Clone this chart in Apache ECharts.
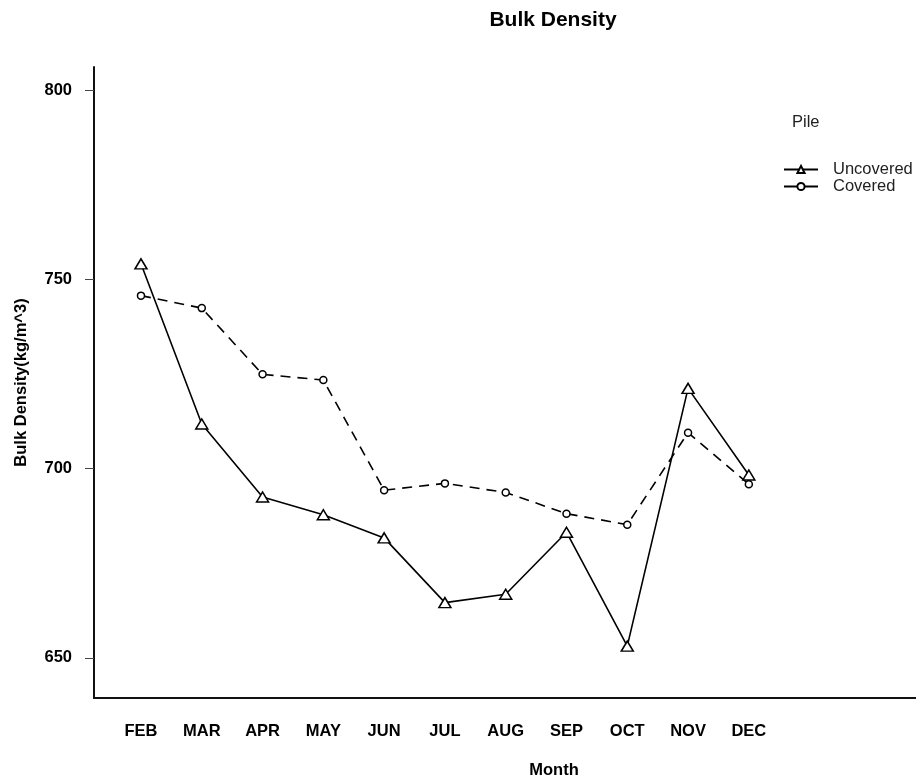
<!DOCTYPE html>
<html>
<head>
<meta charset="utf-8">
<script src="https://cdn.jsdelivr.net/npm/echarts@6/dist/echarts.min.js"></script>
<style>
  html, body { margin: 0; padding: 0; background: #fff; }
  #chart { width: 916px; height: 778px; }
</style>
</head>
<body>
<div id="chart"></div>
<script>
// Monthly bulk density of two compost piles
const months = ['FEB', 'MAR', 'APR', 'MAY', 'JUN', 'JUL', 'AUG', 'SEP', 'OCT', 'NOV', 'DEC'];
const uncovered = [754.1, 711.8, 692.5, 687.8, 681.7, 664.6, 666.8, 683.2, 653.1, 721.2, 698.3];
const covered = [745.7, 742.4, 724.9, 723.4, 694.3, 696.1, 693.7, 688.1, 685.2, 709.5, 695.9];
const yTicks = [650, 700, 750, 800];

const font = '"Liberation Sans", Arial, sans-serif';
const ink = '#000';

const toPoints = arr => arr.map((v, i) => [i, v]);

const chart = echarts.init(document.getElementById('chart'), null, { renderer: 'canvas' });

chart.setOption({
  backgroundColor: '#fff',
  animation: false,
  title: [
    {
      text: 'Bulk Density',
      left: 548, top: 5, textAlign: 'center',
      textStyle: { fontFamily: font, fontSize: 21, fontWeight: 'bold', color: ink }
    },
    {
      text: 'Pile',
      left: 787, top: 109,
      textStyle: { fontFamily: font, fontSize: 16.5, fontWeight: 'normal', color: '#222' }
    },
    {
      text: 'Month',
      left: 549, top: 757, textAlign: 'center',
      textStyle: { fontFamily: font, fontSize: 16.5, fontWeight: 'bold', color: ink }
    }
  ],
  legend: {
    orient: 'vertical',
    left: 778, top: 156,
    itemWidth: 34, itemHeight: 9, itemGap: 0,
    textStyle: { fontFamily: font, fontSize: 16.5, lineHeight: 12, color: '#222', padding: [0, 0, 0, 10] },
    data: [
      { name: 'Uncovered' },
      { name: 'Covered', lineStyle: { type: 'solid' } }
    ]
  },
  grid: { left: 94, right: 0, top: 67, bottom: 80, containLabel: false },
  xAxis: {
    type: 'value',
    min: -0.773, max: 12.75,
    splitLine: { show: false },
    axisTick: { show: false },
    axisLine: { show: true, onZero: false, lineStyle: { color: '#111', width: 2 } },
    axisLabel: {
      customValues: months.map((m, i) => i),
      formatter: v => months[Math.round(v)] || '',
      margin: 25,
      fontFamily: font, fontSize: 16.5, fontWeight: 'bold', color: ink
    }
  },
  yAxis: {
    type: 'value',
    min: 639.4, max: 806.1,
    name: 'Bulk Density(kg/m^3)',
    nameLocation: 'middle',
    nameGap: 64,
    nameRotate: 90,
    nameTextStyle: { fontFamily: font, fontSize: 16.5, fontWeight: 'bold', color: ink },
    splitLine: { show: false },
    axisLine: { show: true, onZero: false, lineStyle: { color: '#111', width: 2 } },
    axisTick: { show: true, length: 9, customValues: yTicks, lineStyle: { color: '#444', width: 1 } },
    axisLabel: {
      customValues: yTicks,
      margin: 22,
      fontFamily: font, fontSize: 16.5, fontWeight: 'bold', color: ink
    }
  },
  series: [
    {
      name: 'Covered',
      type: 'line',
      data: toPoints(covered),
      symbol: 'circle',
      symbolSize: 7,
      z: 2,
      lineStyle: { color: ink, width: 1.6, type: [10, 7] },
      itemStyle: { color: '#fff', borderColor: ink, borderWidth: 1.5 }
    },
    {
      name: 'Uncovered',
      type: 'line',
      data: toPoints(uncovered),
      symbol: 'triangle',
      symbolSize: [12, 10],
      z: 3,
      lineStyle: { color: ink, width: 1.6 },
      itemStyle: { color: '#fff', borderColor: ink, borderWidth: 1.5 }
    }
  ]
});
</script>
</body>
</html>
